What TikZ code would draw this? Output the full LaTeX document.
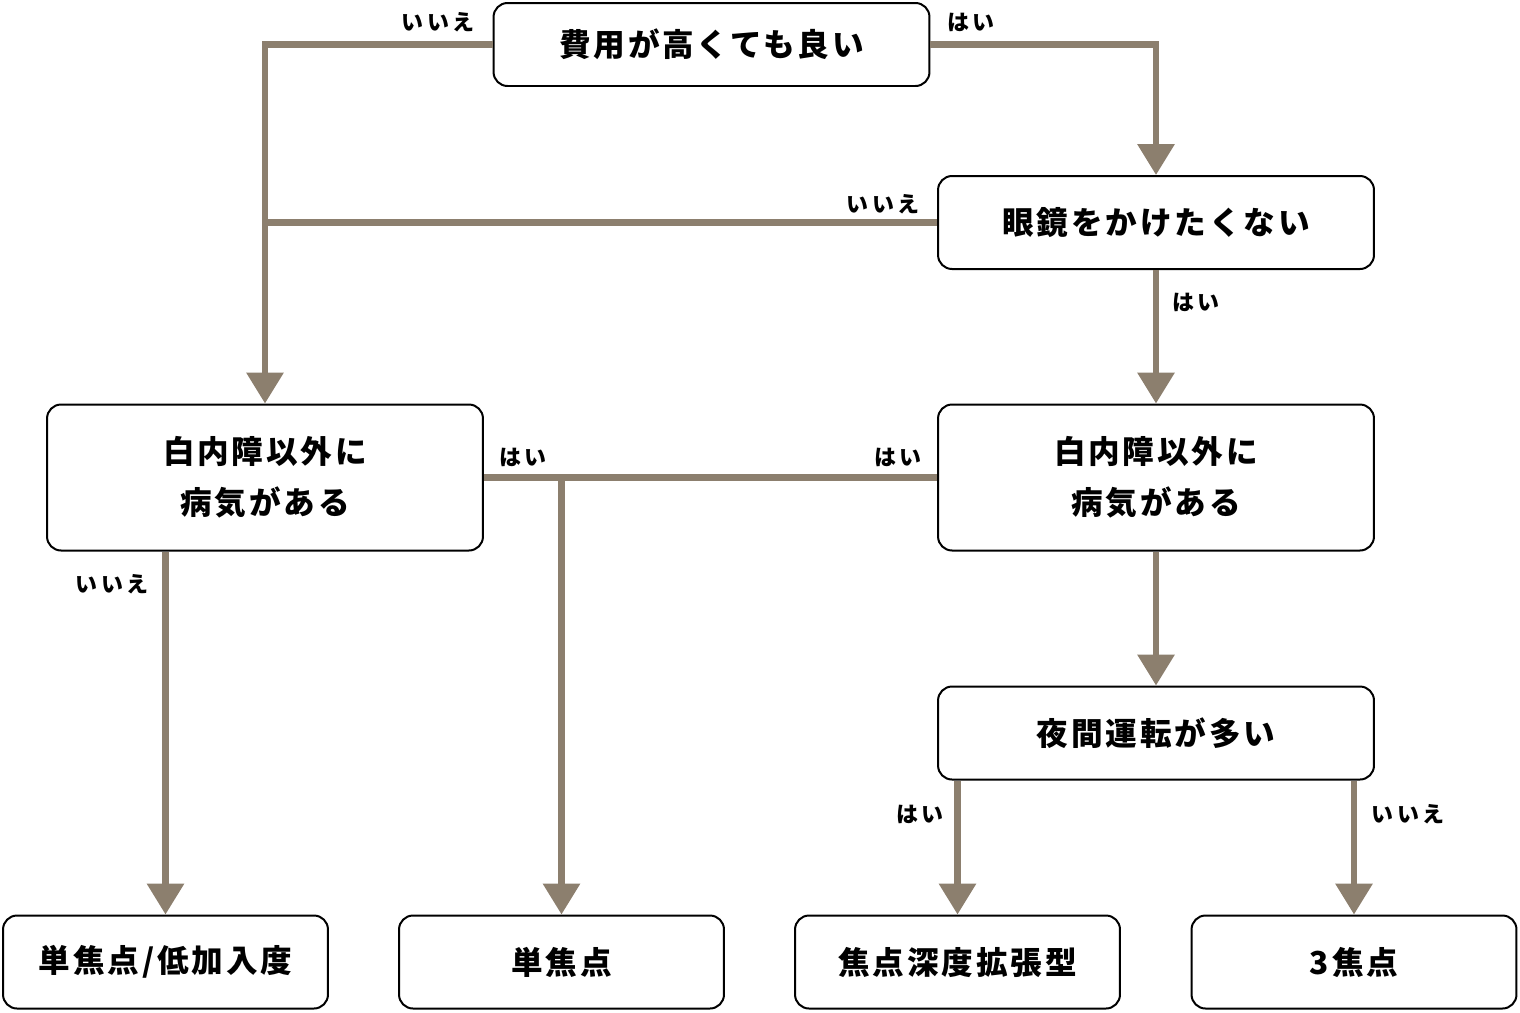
\documentclass[tikz,border=0pt]{standalone}
\usepackage{fontspec}
\newfontfamily\jpbox{Noto Sans CJK JP}[LetterSpace=9]
\newfontfamily\jplabel{Noto Sans CJK JP}[LetterSpace=15]
\usetikzlibrary{arrows.meta}
\definecolor{linebrown}{RGB}{140,127,110}

\begin{document}
\begin{tikzpicture}[x=0.02cm,y=-0.02cm]

\tikzset{box/.style = {shape=rectangle,draw,rounded corners=0.28cm,line width=0.04cm,minimum width=8.72cm,minimum height=1.86cm,align=center,font=\jpbox\bfseries\fontsize{18}{29}\selectfont}}
\tikzset{endbox/.style = {box,minimum width=6.5cm}}
\tikzset{line/.style = {draw=linebrown,line width=0.13cm}}
\tikzset{arc/.style = {line,-{Triangle[width=0.72cm,length=0.62cm]}}}
\tikzset{answer/.style = {inner sep=0pt,font=\jplabel\bfseries\fontsize{12.5}{15}\selectfont}}

\useasboundingbox (0,0) rectangle (1520,1012);

% boxes
\node[box,minimum height=1.66cm] (cost) at (711.5,44.5) {費用が高くても良い};
\node[box] (glass) at (1156,222.5) {眼鏡をかけたくない};
\node[box,minimum height=2.92cm] (catL) at (265,477.5) {白内障以外に\\病気がある};
\node[box,minimum height=2.92cm] (catR) at (1156,477.5) {白内障以外に\\病気がある};
\node[box] (night) at (1156,733) {夜間運転が多い};
\node[endbox] (lowadd) at (165.5,962) {単焦点/低加入度};
\node[endbox] (mono) at (561.5,962) {単焦点};
\node[endbox] (edof) at (957.5,962) {焦点深度拡張型};
\node[endbox] (tri) at (1354,962) {3焦点};

% labels
\node[answer] (costno) at (438,22) {いいえ};
\node[answer] (costyes) at (971,22) {はい};
\node[answer] (glassno) at (883,204) {いいえ};
\node[answer] (glassyes) at (1196,302) {はい};
\node[answer] (catLyes) at (523,457) {はい};
\node[answer] (catRyes) at (898,457) {はい};
\node[answer] (catLno) at (112,584) {いいえ};
\node[answer] (nightyes) at (920,814) {はい};
\node[answer] (nightno) at (1408,814) {いいえ};

% arcs
\draw[arc] (cost.west) -| (catL.north);
\draw[arc] (cost.east) -| (glass.north);
\draw[line] (glass.west) -- (glass.west -| catL.north);
\draw[arc] (glass) -- (catR);
\draw[line] (catL.east) -- (catR.west);
\draw[arc] (catL.east -| mono.north) -- (mono.north);
\draw[arc] (lowadd.north |- catL.south) -- (lowadd.north);
\draw[arc] (catR) -- (night);
\draw[arc] (edof.north |- night.south) -- (edof.north);
\draw[arc] (tri.north |- night.south) -- (tri.north);

\end{tikzpicture}
\end{document}
